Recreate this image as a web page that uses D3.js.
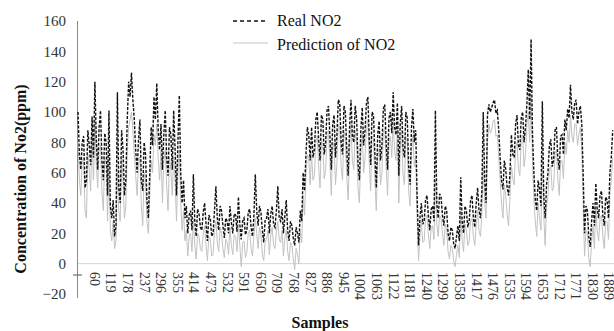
<!DOCTYPE html>
<html>
<head>
<meta charset="utf-8">
<script src="https://cdn.jsdelivr.net/npm/d3@7"></script>
<style>
  body { margin: 0; background: #fff; }
  svg { display: block; }
  svg text { font-family: "Liberation Serif", "Times New Roman", "DejaVu Serif", serif; }
</style>
</head>
<body>
<div id="chart"></div>
<script>
// one reading every 5 samples, starting at sample 1
const sampleStep = 5;

const realNO2 = [
  100, 72, 62, 80, 84, 50, 55, 88, 78, 65,
  97, 70, 120, 82, 62, 90, 101, 68, 55, 86,
  80, 45, 101, 38, 30, 42, 18, 25, 113, 50,
  40, 88, 75, 45, 55, 95, 120, 110, 126, 108,
  95, 75, 60, 82, 95, 55, 48, 80, 72, 42,
  30, 60, 90, 78, 110, 95, 119, 88, 75, 92,
  62, 85, 101, 70, 58, 90, 85, 62, 101, 75,
  45, 80, 111, 60, 40, 55, 30, 38, 20, 32,
  35, 22, 59, 28, 18, 36, 33, 24, 22, 34,
  40, 26, 15, 32, 30, 18, 20, 35, 51, 30,
  22, 38, 35, 25, 17, 30, 28, 20, 38, 27,
  20, 33, 32, 21, 44, 26, 16, 28, 30, 19,
  22, 34, 36, 24, 18, 31, 59, 35, 25, 38,
  34, 22, 14, 29, 30, 36, 20, 33, 38, 26,
  24, 35, 51, 30, 28, 36, 20, 31, 42, 22,
  15, 28, 25, 17, 12, 24, 20, 14, 35, 28,
  60, 48, 72, 90, 85, 68, 90, 70, 75, 95,
  100, 82, 68, 98, 95, 72, 80, 101, 104, 85,
  62, 92, 98, 70, 85, 108, 106, 80, 72, 104,
  100, 75, 58, 90, 108, 84, 80, 104, 96, 66,
  55, 88, 103, 78, 88, 106, 110, 82, 65, 100,
  98, 72, 50, 85, 94, 68, 78, 102, 105, 80,
  62, 96, 100, 86, 113, 90, 85, 106, 58, 92,
  104, 76, 70, 100, 96, 64, 52, 90, 102, 80,
  88, 45, 12, 30, 40, 26, 28, 42, 45, 32,
  22, 36, 38, 28, 101, 40, 30, 46, 44, 32,
  25, 38, 35, 20, 15, 24, 22, 13, 10, 18,
  25, 15, 57, 28, 20, 38, 35, 24, 28, 42,
  45, 30, 24, 40, 50, 35, 30, 48, 100, 55,
  40, 98, 105, 100, 103, 106, 108, 99, 101, 88,
  70, 55, 49, 68, 62, 50, 45, 60, 85, 72,
  70, 92, 98, 78, 75, 96, 100, 80, 90, 105,
  128, 95, 148, 85, 60, 42, 35, 55, 49, 38,
  107, 45, 30, 52, 60, 78, 82, 64, 68, 88,
  90, 70, 62, 84, 85, 72, 95, 88, 102, 96,
  118, 100, 95, 106, 108, 92, 100, 104, 92, 60,
  20, 38, 35, 18, 11, 28, 40, 25, 53, 36,
  30, 45, 48, 32, 25, 44, 42, 30, 60, 70,
  88
];

const predictedNO2 = [
  80, 55, 45, 68, 70, 35, 30, 72, 62, 48,
  85, 55, 95, 65, 50, 75, 78, 48, 35, 70,
  65, 28, 70, 22, 15, 28, 10, 15, 60, 35,
  28, 70, 55, 30, 38, 75, 90, 95, 100, 88,
  72, 58, 45, 66, 70, 38, 25, 60, 55, 28,
  20, 45, 68, 60, 85, 78, 92, 70, 55, 75,
  40, 68, 75, 52, 35, 70, 62, 45, 70, 55,
  28, 60, 75, 40, 22, 35, 15, 22, 5, 18,
  20, 8, 30, 12, 3, 20, 18, 10, 8, 20,
  25, 12, 2, 18, 16, 5, 6, 22, 28, 14,
  8, 24, 20, 10, 4, 16, 14, 6, 24, 12,
  6, 19, 18, 8, 26, 12, -2, 14, 15, 4,
  8, 20, 22, 10, 5, 18, 30, 20, 10, 24,
  20, 6, 2, 14, 16, 22, 6, 19, 24, 12,
  10, 21, 28, 16, 14, 22, 5, 17, 22, 8,
  2, 14, 12, 3, -4, 10, 6, 0, 22, 14,
  45, 32, 58, 72, 70, 52, 72, 55, 58, 80,
  84, 65, 50, 82, 78, 56, 62, 86, 88, 68,
  45, 76, 80, 52, 66, 92, 90, 64, 55, 88,
  82, 58, 42, 74, 92, 68, 62, 88, 80, 50,
  40, 72, 86, 60, 70, 90, 95, 66, 48, 84,
  82, 55, 35, 70, 76, 52, 60, 86, 90, 64,
  45, 80, 84, 70, 96, 74, 68, 90, 40, 76,
  88, 58, 52, 84, 80, 48, 38, 74, 85, 64,
  70, 30, 2, 18, 28, 14, 15, 30, 32, 20,
  10, 24, 25, 16, 55, 26, 18, 32, 30, 20,
  12, 26, 22, 8, 3, 12, 10, 2, -2, 6,
  12, 4, 35, 16, 8, 26, 22, 12, 15, 28,
  30, 18, 12, 26, 35, 22, 18, 32, 65, 40,
  30, 80, 92, 86, 88, 94, 95, 84, 85, 70,
  55, 40, 30, 52, 45, 32, 25, 44, 65, 56,
  52, 76, 80, 62, 58, 82, 85, 64, 72, 92,
  100, 80, 110, 68, 42, 28, 18, 40, 30, 22,
  70, 32, 12, 38, 45, 62, 65, 48, 50, 72,
  75, 56, 45, 68, 68, 56, 80, 72, 88, 80,
  98, 84, 80, 92, 92, 78, 85, 90, 75, 40,
  5, 22, 20, 4, -2, 14, 25, 10, 38, 22,
  15, 30, 32, 18, 10, 28, 28, 16, 45, 55,
  70
];

const yTicks = [-20, 0, 20, 40, 60, 80, 100, 120, 140, 160];
const xTickLabels = [
  60, 119, 178, 237, 296, 355, 414, 473, 532, 591, 650, 709, 768, 827, 886, 945,
  1004, 1063, 1122, 1181, 1240, 1299, 1358, 1417, 1476, 1535, 1594, 1653, 1712,
  1771, 1830, 1889
];
const seriesNames = ['Real NO2', 'Prediction of NO2'];

const width = 614, height = 331;
const serif = '"Liberation Serif", "Times New Roman", serif';

const svg = d3.select('#chart').append('svg')
  .attr('width', width)
  .attr('height', height);

const lastSample = 1 + sampleStep * (realNO2.length - 1);
const x = d3.scaleLinear().domain([1, lastSample]).range([78, 612.7]);
const y = d3.scaleLinear().domain([-20, 160]).range([294, 21]);

// zero gridline
svg.append('line')
  .attr('x1', 78).attr('x2', width)
  .attr('y1', y(0)).attr('y2', y(0))
  .attr('stroke', '#d4d4d4').attr('stroke-width', 1);

// value axis
const yAxis = svg.append('g')
  .attr('transform', 'translate(78,0)')
  .call(d3.axisLeft(y).tickValues(yTicks).tickSize(0).tickPadding(12));
yAxis.attr('font-family', serif);
yAxis.select('.domain').remove();
yAxis.selectAll('text')
  .style('font-family', serif)
  .style('font-size', '15px')
  .attr('fill', '#333');
svg.append('line')
  .attr('x1', 77.5).attr('x2', 77.5)
  .attr('y1', y(160)).attr('y2', 298)
  .attr('stroke', '#8a8a8a');
svg.append('line')
  .attr('x1', 73).attr('x2', 82)
  .attr('y1', 275).attr('y2', 275)
  .attr('stroke', '#555');

// category labels, rotated
svg.append('g').selectAll('text')
  .data(xTickLabels)
  .join('text')
  .attr('transform', d => `translate(${x(d)},272) rotate(90)`)
  .attr('dy', '0.35em')
  .attr('text-anchor', 'start')
  .style('font-family', serif)
  .style('font-size', '14px')
  .attr('fill', '#333')
  .text(d => d);

// series
const line = d3.line()
  .x((d, i) => x(1 + i * sampleStep))
  .y(d => y(d));

svg.append('path')
  .datum(predictedNO2)
  .attr('fill', 'none')
  .attr('stroke', '#c2c2c2')
  .attr('stroke-width', 1)
  .attr('d', line);

svg.append('path')
  .datum(realNO2)
  .attr('fill', 'none')
  .attr('stroke', '#111')
  .attr('stroke-width', 1.4)
  .attr('stroke-dasharray', '3,1.5')
  .attr('d', line);

// legend
const legend = svg.append('g');
legend.append('line')
  .attr('x1', 233).attr('x2', 268).attr('y1', 21).attr('y2', 21)
  .attr('stroke', '#111').attr('stroke-width', 1.3).attr('stroke-dasharray', '4,3');
legend.append('line')
  .attr('x1', 233).attr('x2', 268).attr('y1', 43).attr('y2', 43)
  .attr('stroke', '#c4c4c4').attr('stroke-width', 1);
legend.selectAll('text.leg')
  .data(seriesNames)
  .join('text')
  .attr('class', 'leg')
  .attr('x', 277)
  .attr('y', (d, i) => 26 + i * 24)
  .style('font-family', serif)
  .style('font-size', '16px')
  .attr('fill', '#111')
  .text(d => d);

// axis titles
svg.append('text')
  .attr('x', 320).attr('y', 328)
  .attr('text-anchor', 'middle')
  .style('font-family', serif)
  .style('font-size', '16px').style('font-weight', 'bold')
  .attr('fill', '#111')
  .text('Samples');

svg.append('text')
  .attr('transform', 'translate(26,179) rotate(-90)')
  .attr('text-anchor', 'middle')
  .style('font-family', serif)
  .style('font-size', '16px').style('font-weight', 'bold')
  .attr('fill', '#111')
  .text('Concentration of No2(ppm)');
</script>
</body>
</html>
